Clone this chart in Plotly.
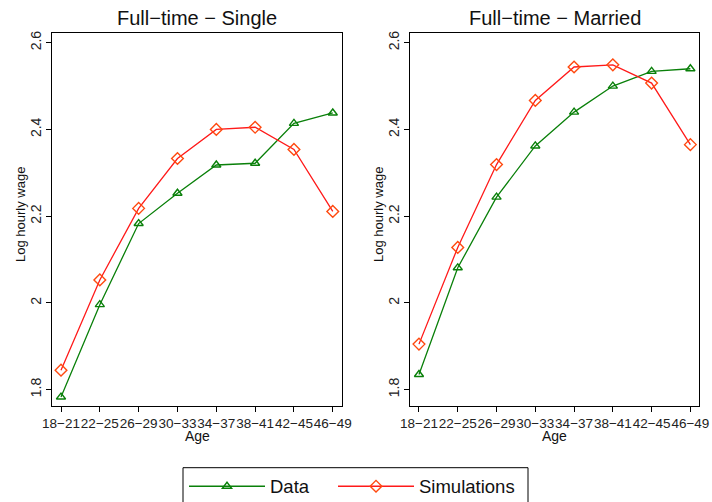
import plotly.graph_objects as go

# Age groups on the x axis
age_groups = ["18\u221221", "22\u221225", "26\u221229", "30\u221233",
              "34\u221237", "38\u221241", "42\u221245", "46\u221249"]

# Log hourly wage, full-time single workers
single_data = [1.783, 1.996, 2.183, 2.253, 2.318, 2.322, 2.414, 2.438]
single_sim = [1.845, 2.053, 2.218, 2.333, 2.400, 2.405, 2.354, 2.211]

# Log hourly wage, full-time married workers
married_data = [1.835, 2.081, 2.244, 2.362, 2.440, 2.500, 2.534, 2.540]
married_sim = [1.905, 2.128, 2.319, 2.467, 2.544, 2.549, 2.507, 2.365]

panel_titles = ["Full\u2212time \u2212 Single", "Full\u2212time \u2212 Married"]
y_ticks = [1.8, 2.0, 2.2, 2.4, 2.6]
y_tick_text = ["1.8", "2", "2.2", "2.4", "2.6"]

W, H = 712, 502
FONT = "Liberation Sans, Arial, sans-serif"
GREEN = "#0a800a"
RED = "#ff1a1a"
ORANGE = "#ff4a10"

fig = go.Figure()

panels = [
    (single_data, single_sim, "x", "y"),
    (married_data, married_sim, "x2", "y2"),
]
for i, (d, s, xa, ya) in enumerate(panels):
    fig.add_trace(go.Scatter(
        x=list(range(len(age_groups))), y=d, xaxis=xa, yaxis=ya,
        mode="lines+markers", name="Data", showlegend=(i == 0),
        legend="legend",
        line=dict(color=GREEN, width=1.3),
        marker=dict(symbol="triangle-up-open", size=8,
                    color=GREEN, line=dict(color=GREEN, width=1.4)),
    ))
    fig.add_trace(go.Scatter(
        x=list(range(len(age_groups))), y=s, xaxis=xa, yaxis=ya,
        mode="lines+markers", name="Simulations", showlegend=(i == 0),
        legend="legend2",
        line=dict(color=RED, width=1.3),
        marker=dict(symbol="diamond-open", size=9,
                    color=ORANGE, line=dict(color=ORANGE, width=1.4)),
    ))

x_domains = [[52.3 / W, 341.7 / W], [410.3 / W, 699.3 / W]]
y_domain = [1 - 405.7 / H, 1 - 33.3 / H]

common_x = dict(
    range=[-0.224, 7.23], tickmode="array",
    tickvals=list(range(len(age_groups))), ticktext=age_groups,
    tickangle=0, automargin=False,
    ticks="outside", ticklen=5, tickwidth=1, tickcolor="black",
    showline=True, linecolor="black", linewidth=1.2, mirror=True,
    showgrid=False, zeroline=False,
    tickfont=dict(family=FONT, size=13.5, color="#222"),
)
common_y = dict(
    range=[1.763, 2.6217], tickmode="array",
    tickvals=y_ticks, ticktext=y_tick_text, tickangle=-90,
    automargin=False,
    ticks="outside", ticklen=5, tickwidth=1, tickcolor="black",
    showline=True, linecolor="black", linewidth=1.2, mirror=True,
    showgrid=False, zeroline=False,
    tickfont=dict(family=FONT, size=14, color="#222"),
)

fig.update_layout(
    xaxis=dict(domain=x_domains[0], anchor="y", **common_x),
    yaxis=dict(domain=y_domain, anchor="x", **common_y),
    xaxis2=dict(domain=x_domains[1], anchor="y2", **common_x),
    yaxis2=dict(domain=y_domain, anchor="x2", **common_y),
)

annotations = []
for i, title in enumerate(panel_titles):
    cx = (x_domains[i][0] + x_domains[i][1]) / 2
    annotations.append(dict(
        text=title, x=cx, y=1 - 18 / H, xref="paper", yref="paper",
        xanchor="center", yanchor="middle", showarrow=False,
        font=dict(family=FONT, size=20, color="#111"),
    ))
    annotations.append(dict(
        text="Age", x=cx, y=1 - 436 / H, xref="paper", yref="paper",
        xanchor="center", yanchor="middle", showarrow=False,
        font=dict(family=FONT, size=14, color="#111"),
    ))
    yx = [20 / W, 378 / W][i]
    annotations.append(dict(
        text="Log hourly wage", x=yx, y=1 - 215 / H,
        xref="paper", yref="paper", xanchor="center", yanchor="middle",
        textangle=-90, showarrow=False,
        font=dict(family=FONT, size=13, color="#111"),
    ))

legend_style = dict(
    orientation="h", y=1 - 467.7 / H, xanchor="left", yanchor="top",
    borderwidth=0, bgcolor="rgba(0,0,0,0)",
    font=dict(family=FONT, size=18.5, color="#111"),
    itemwidth=76,
)

fig.update_layout(
    width=W, height=H,
    margin=dict(l=0, r=0, t=0, b=0, autoexpand=False),
    paper_bgcolor="white", plot_bgcolor="white",
    annotations=annotations,
    showlegend=True,
    legend=dict(x=184 / W, **legend_style),
    legend2=dict(x=333 / W, **legend_style),
    shapes=[dict(
        type="rect", xref="paper", yref="paper",
        x0=183 / W, x1=528 / W, y0=-0.02, y1=1 - 467.7 / H,
        line=dict(color="black", width=1), fillcolor="rgba(0,0,0,0)",
        layer="below",
    )],
)

fig.write_html("out.html")
